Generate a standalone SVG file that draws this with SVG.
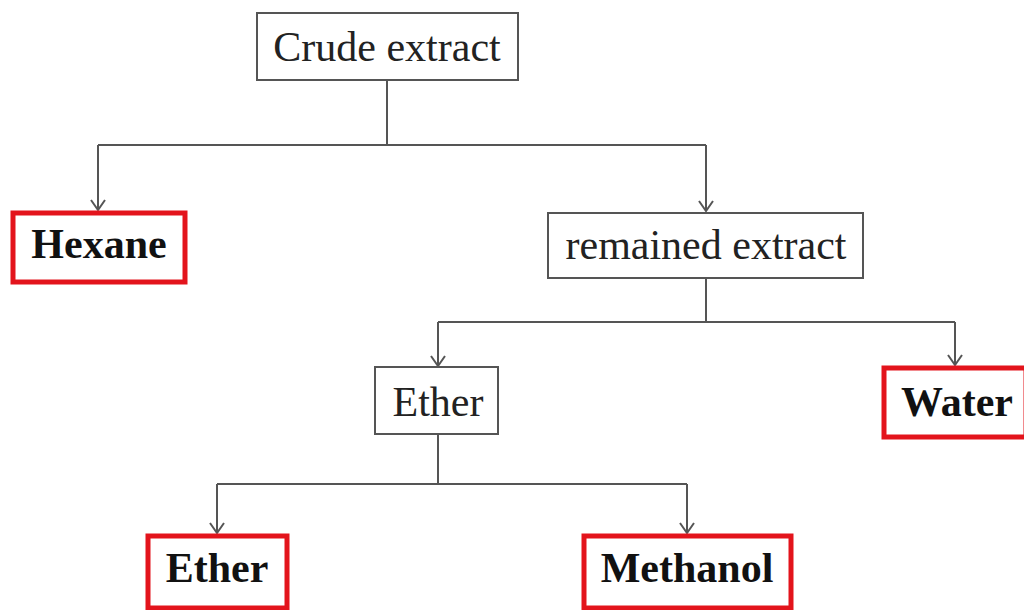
<svg xmlns="http://www.w3.org/2000/svg" width="1024" height="610" viewBox="0 0 1024 610">
<defs>
<style>
.box{fill:#fff;stroke:#555;stroke-width:2}
.res{fill:#fff;stroke:#e3141c;stroke-width:5}
.t{font-family:"Liberation Serif","Times New Roman",serif;font-size:42px;fill:#222;text-anchor:middle}
.b{font-weight:bold;fill:#111}
.c{fill:none;stroke:#555;stroke-width:2}
</style>
<marker id="ah" viewBox="0 0 12 16" refX="11" refY="8" markerWidth="12" markerHeight="16" markerUnits="userSpaceOnUse" orient="auto">
<path d="M1,1 L11,8 L1,15" fill="none" stroke="#555" stroke-width="2"/>
</marker>
</defs>
<rect width="1024" height="610" fill="#fff"/>
<g id="connectors">
<path class="c" d="M387,80 V145"/>
<path class="c" d="M98,145 H706"/>
<path class="c" d="M98,145 V210" marker-end="url(#ah)"/>
<path class="c" d="M706,145 V211" marker-end="url(#ah)"/>
<path class="c" d="M706,278 V322"/>
<path class="c" d="M438,322 H955"/>
<path class="c" d="M438,322 V366" marker-end="url(#ah)"/>
<path class="c" d="M955,322 V365" marker-end="url(#ah)"/>
<path class="c" d="M438,434 V484"/>
<path class="c" d="M217,484 H687"/>
<path class="c" d="M217,484 V533" marker-end="url(#ah)"/>
<path class="c" d="M687,484 V533" marker-end="url(#ah)"/>
</g>
<g id="crude-extract">
<rect class="box" x="257" y="13" width="261" height="67"/>
<text class="t" x="387" y="61">Crude extract</text>
</g>
<g id="hexane">
<rect class="res" x="13" y="213" width="172" height="69"/>
<text class="t b" x="99" y="258">Hexane</text>
</g>
<g id="remained-extract">
<rect class="box" x="548" y="213" width="315" height="65"/>
<text class="t" x="706" y="259">remained extract</text>
</g>
<g id="ether">
<rect class="box" x="375" y="367" width="123" height="67"/>
<text class="t" x="438" y="416">Ether</text>
</g>
<g id="water">
<rect class="res" x="884" y="368" width="142" height="69"/>
<text class="t b" x="957" y="416">Water</text>
</g>
<g id="ether-result">
<rect class="res" x="148" y="536" width="139" height="72"/>
<text class="t b" x="217" y="582">Ether</text>
</g>
<g id="methanol">
<rect class="res" x="584" y="536" width="207" height="72"/>
<text class="t b" x="687" y="582">Methanol</text>
</g>
</svg>
